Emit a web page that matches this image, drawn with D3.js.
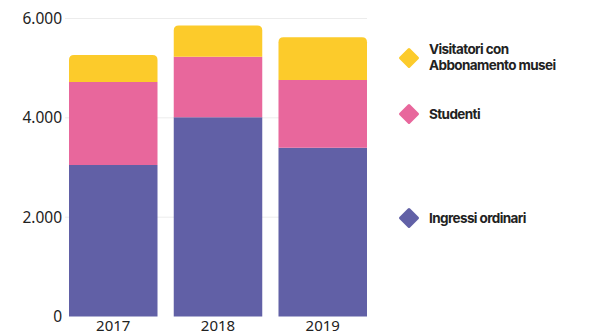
<!DOCTYPE html>
<html>
<head>
<meta charset="utf-8">
<script src="https://cdn.jsdelivr.net/npm/d3@7"></script>
<style>
  body { margin: 0; background: #fff; }
</style>
</head>
<body>
<svg id="chart"></svg>
<script>
const ink = "#222";

const years = ["2017", "2018", "2019"];
const ordinari = [3050, 4010, 3400];
const studenti = [1670, 1220, 1360];
const abbonamento = [545, 630, 860];
const yTicks = [0, 2000, 4000, 6000];

const keys = ["ordinari", "studenti", "abbonamento"];
const labels = {
  abbonamento: ["Visitatori con", "Abbonamento musei"],
  studenti: ["Studenti"],
  ordinari: ["Ingressi ordinari"]
};

const color = d3.scaleOrdinal()
  .domain(keys)
  .range(["#6160a6", "#e8679c", "#fccb2b"]);

const W = 591, H = 335;
const svg = d3.select("#chart").attr("width", W).attr("height", H);

const data = years.map((y, i) => ({
  year: y, ordinari: ordinari[i], studenti: studenti[i], abbonamento: abbonamento[i]
}));

const x = d3.scaleBand()
  .domain(years)
  .range([69, 367])
  .paddingInner(0.155)
  .paddingOuter(0);

const y = d3.scaleLinear()
  .domain([0, 6000])
  .range([316.5, 18.5]);

// Gridlines
svg.append("g")
  .selectAll("line")
  .data(yTicks.filter(d => d > 0))
  .join("line")
  .attr("x1", 65)
  .attr("x2", 367)
  .attr("y1", d => y(d))
  .attr("y2", d => y(d))
  .attr("stroke", "#ececec")
  .attr("stroke-width", 1);

// Y labels
const fmt = d => d === 0 ? "0" : d3.format(",")(d).replace(",", ".");
svg.append("g")
  .selectAll("text")
  .data(yTicks)
  .join("text")
  .attr("x", 62)
  .attr("y", d => y(d) + 5.5)
  .attr("text-anchor", "end")
  .style("font-family", "'Noto Sans', sans-serif")
  .style("font-size", "15.5px")
  .style("fill", ink)
  .text(fmt);

// Stacked bars
const series = d3.stack().keys(keys)(data);
const r = 5;
function barPath(x0, y0, w, y1, rounded) {
  // y0 = top, y1 = bottom
  if (!rounded) return `M${x0},${y1}V${y0}H${x0 + w}V${y1}Z`;
  return `M${x0},${y1}V${y0 + r}Q${x0},${y0} ${x0 + r},${y0}` +
         `H${x0 + w - r}Q${x0 + w},${y0} ${x0 + w},${y0 + r}V${y1}Z`;
}

svg.append("g")
  .selectAll("g")
  .data(series)
  .join("g")
  .attr("fill", s => color(s.key))
  .selectAll("path")
  .data(s => s.map(d => ({ d, top: s.key === "abbonamento" })))
  .join("path")
  .attr("d", p => barPath(x(p.d.data.year), y(p.d[1]), x.bandwidth(), y(p.d[0]), p.top));

// X labels
svg.append("g")
  .selectAll("text")
  .data(years)
  .join("text")
  .attr("x", d => x(d) + x.bandwidth() / 2)
  .attr("y", 331)
  .attr("text-anchor", "middle")
  .style("font-family", "'Noto Sans', sans-serif")
  .style("font-size", "15px")
  .style("fill", ink)
  .text(d => d);

// Legend
const legendY = { abbonamento: 58, studenti: 114, ordinari: 218 };
const legend = svg.append("g").attr("transform", "translate(409,0)");

keys.forEach(k => {
  const g = legend.append("g").attr("transform", `translate(0,${legendY[k]})`);
  g.append("rect")
    .attr("x", -7.5)
    .attr("y", -7.5)
    .attr("width", 15)
    .attr("height", 15)
    .attr("rx", 1.5)
    .attr("transform", "rotate(45)")
    .attr("fill", color(k));
  const lines = labels[k];
  const t = g.append("text")
    .attr("x", 20)
    .attr("y", lines.length > 1 ? -4 : 5)
    .style("font-family", "Inter, sans-serif")
    .style("font-weight", "700")
    .style("font-size", "13.5px")
    .style("letter-spacing", "-0.6px")
    .style("fill", ink);
  lines.forEach((l, i) => {
    t.append("tspan")
      .attr("x", 20)
      .attr("dy", i === 0 ? 0 : 16)
      .text(l);
  });
});
</script>
</body>
</html>
